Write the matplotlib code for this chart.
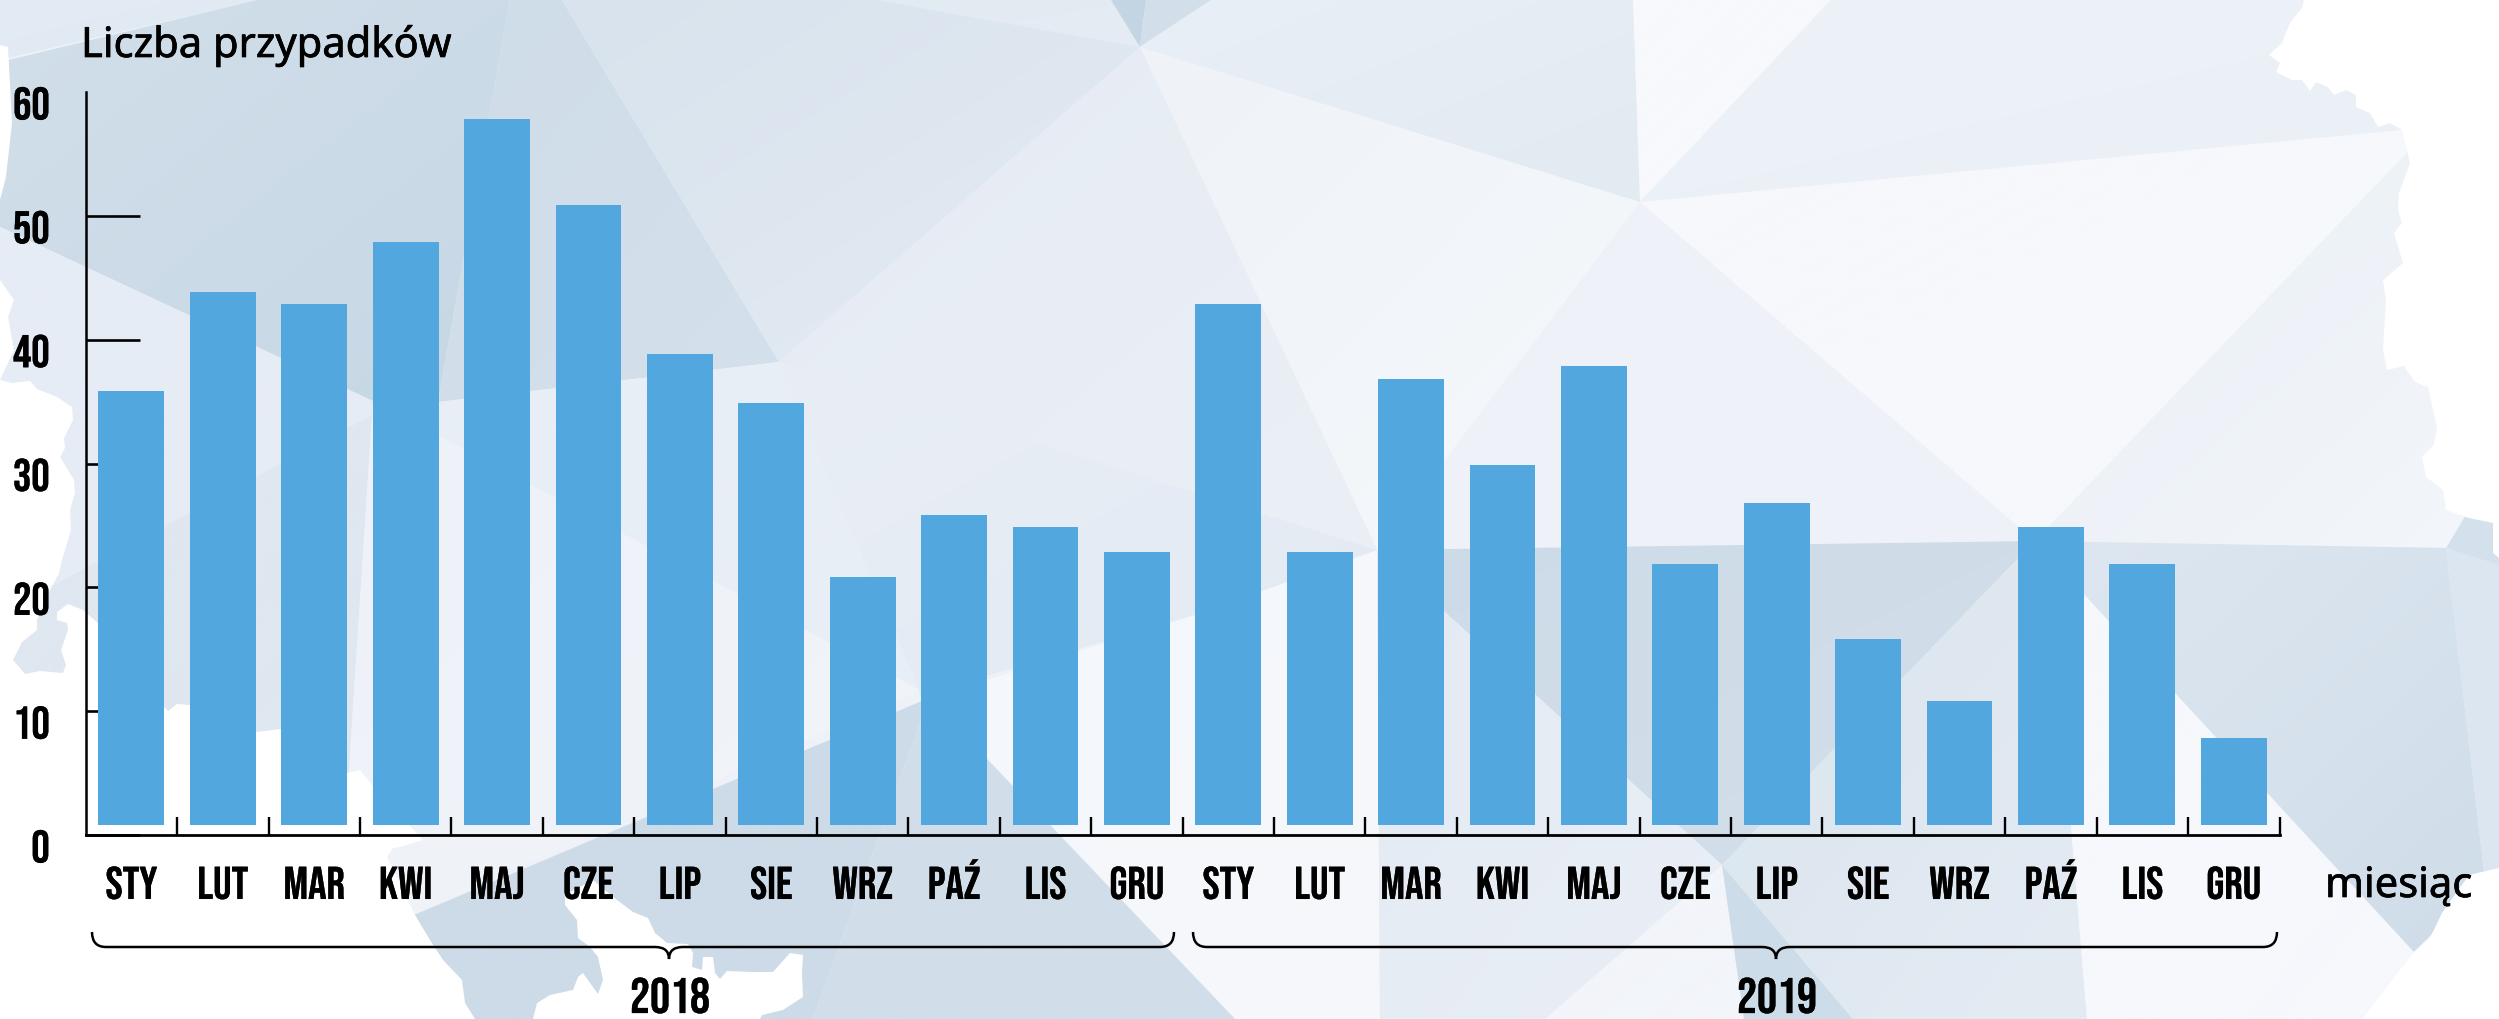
import numpy as np
import matplotlib
matplotlib.use("Agg")
import matplotlib.pyplot as plt
import matplotlib.patheffects as pe
from matplotlib.colors import to_rgb
from matplotlib.patches import Polygon, PathPatch
from matplotlib.path import Path
from matplotlib.transforms import ScaledTranslation

months = ["STY", "LUT", "MAR", "KWI", "MAJ", "CZE", "LIP", "SIE", "WRZ", "PAŹ", "LIS", "GRU"]
cases_2018 = [36, 44, 43, 48, 58, 51, 39, 35, 21, 26, 25, 23]
cases_2019 = [43, 23, 37, 30, 38, 22, 27, 16, 11, 25, 22, 8]
y_labels = [0, 10, 20, 30, 40, 50, 60]

W, H = 2499, 1019
BAR = "#51a7de"
NARROW = ["Bebas Neue", "Liberation Sans"]
SANS = ["Noto Sans", "Open Sans"]
BOLDER = [pe.withStroke(linewidth=0.5, foreground="black")]
SLIGHT = [pe.withStroke(linewidth=0.2, foreground="black")]

# background map, in pixels of the picture
outline = [
    (0, 0), (2304, 0), (2302, 8), (2290, 23), (2282, 43), (2269, 55), (2280, 63), (2276, 72), (2292, 80),
    (2302, 80), (2310, 91), (2316, 82), (2328, 87), (2334, 95), (2346, 90), (2356, 95), (2356, 107),
    (2370, 113), (2378, 127), (2390, 123), (2402, 130), (2410, 163), (2399, 193), (2398, 210), (2402, 223),
    (2394, 233), (2403, 263), (2383, 280), (2386, 300), (2383, 350), (2387, 370), (2404, 366), (2415, 382),
    (2428, 387), (2437, 427), (2434, 445), (2422, 457), (2426, 477), (2443, 490), (2446, 510), (2469, 518),
    (2493, 523), (2493, 553), (2499, 558), (2499, 868), (2469, 875), (2442, 913), (2430, 938), (2414, 952),
    (2362, 1019), (760, 1019), (762, 1015), (783, 1010), (803, 997), (802, 973), (803, 955), (790, 953),
    (773, 972), (753, 972), (727, 971), (720, 979), (715, 973), (713, 957), (703, 957), (702, 970), (692, 967),
    (693, 953), (688, 944), (667, 943), (655, 933), (648, 918), (633, 912), (613, 897), (593, 880), (565, 895),
    (565, 905), (577, 920), (578, 938), (590, 947), (598, 957), (603, 980), (598, 994), (590, 983), (583, 973),
    (578, 977), (573, 990), (550, 995), (537, 1003), (533, 1019), (475, 1019), (465, 1003), (462, 980),
    (443, 960), (430, 940), (415, 915), (403, 890), (387, 857), (393, 848), (400, 847), (423, 840), (372, 785),
    (360, 770), (347, 773), (281, 729), (257, 732), (190, 705), (177, 704), (168, 711), (164, 707), (98, 623),
    (83, 610), (68, 604), (57, 612), (57, 620), (67, 623), (68, 630), (61, 650), (66, 665), (63, 673), (40, 671),
    (25, 674), (13, 660), (22, 642), (37, 630), (37, 620), (50, 590), (59, 573), (62, 560), (71, 530), (70, 510),
    (75, 493), (74, 480), (60, 457), (65, 448), (64, 438), (73, 420), (72, 407), (57, 397), (37, 389), (30, 381),
    (12, 383), (0, 380), (14, 350), (8, 317), (14, 300), (0, 280), (0, 200), (6, 177), (12, 123), (8, 47), (0, 45),
]

V1, V2, V3 = (1140, 47), (1640, 202), (779, 362)
V4, V5, V6 = (2402, 130), (2408, 152), (2446, 548)
V7, V8, V10 = (1377, 550), (2035, 541), (1722, 865)

# corners, colour at the upper left, colour at the lower right
facets = [
    ([(0, 0), (257, 0), (8, 58), (0, 62)], "#e4ebf4", "#dfe8f1"),
    ([(257, 0), (510, 0), (438, 402), (375, 402), (0, 227), (0, 62)], "#d2dfea", "#c6d7e5"),
    ([(510, 0), (562, 0), V3, (438, 402)], "#cfdde9", "#d4e0eb"),
    ([(562, 0), (877, 0), V1, V3], "#d8e3ed", "#e4ebf3"),
    ([(877, 0), (1111, 0), V1], "#e2eaf2", "#e6ecf4"),
    ([(1111, 0), (1146, 0), V1], "#c4d5e3", "#c4d5e3"),
    ([(1146, 0), (1211, 0), V1], "#d2dfea", "#d2dfea"),
    ([(1211, 0), (1633, 0), V2, V1], "#e9eff6", "#e2eaf2"),
    ([(1633, 0), (1831, 0), V2], "#f7f9fc", "#f7f9fc"),
    ([(1831, 0), (2499, 0), V4, V2], "#edf1f8", "#ebf0f6"),
    ([V2, V4, V5, V8], "#f6f8fc", "#f6f8fc"),
    ([V5, V4, (2499, 130), (2499, 548), V6, V8], "#e9eff6", "#f3f6fa"),
    ([V1, V2, V7], "#eff3f8", "#f5f8fb"),
    ([V1, V3, V7], "#e6ecf4", "#ebeff6"),
    ([V3, V7, (1195, 615), (920, 695)], "#e9eef6", "#e3eaf3"),
    ([(375, 402), (438, 402), V3, (920, 690), (622, 533)], "#e8eef6", "#e8eef6"),
    ([(0, 227), (375, 402), (372, 415), (50, 587), (0, 614)], "#e6ecf5", "#e6ecf5"),
    ([(372, 415), (347, 800), (0, 800), (0, 614), (50, 587)], "#dfe7f0", "#dfe7f0"),
    ([(375, 402), (622, 533), (920, 690), (414, 915), (347, 800), (372, 415)], "#eef2f8", "#f1f4f9"),
    ([(929, 698), (1195, 615), V7, (1380, 1019), (1235, 1019)], "#f4f7fb", "#f6f8fc"),
    ([(414, 915), (929, 698), (813, 1019), (300, 1019)], "#cddbe8", "#cddbe8"),
    ([(929, 698), (1235, 1019), (813, 1019)], "#d1deea", "#d1deea"),
    ([V7, V8, V10], "#cddbe8", "#d3dfea"),
    ([V7, V10, (1545, 1019), (1380, 1019)], "#e3eaf3", "#eaeff6"),
    ([V10, (1545, 1019), (1744, 1019)], "#f2f5fa", "#f2f5fa"),
    ([V10, (1744, 1019), (1853, 1019)], "#cddce9", "#cddce9"),
    ([V8, V10, (1853, 1019), (2087, 1019), (2071, 827)], "#dae5ef", "#e4ebf3"),
    ([V8, (2414, 952), (2362, 1019), (2087, 1019), (2071, 827)], "#f6f8fc", "#f6f8fc"),
    ([V8, V6, (2485, 880), (2414, 952)], "#dee7f1", "#cfdde9"),
    ([V6, (2499, 565), (2499, 880), (2485, 880)], "#dce6f0", "#dce6f0"),
    ([V6, (2475, 500), (2499, 500), (2499, 565)], "#d4e1ec", "#d4e1ec"),
]


def facet(ax, pts, c0, c1):
    xs, ys = zip(*pts)
    box = (min(xs), max(xs), max(ys), min(ys))
    u, v = np.meshgrid(np.linspace(0, 1, 48), np.linspace(0, 1, 48))
    t = ((u + v) / 2)[..., None]
    img = np.array(to_rgb(c0)) * (1 - t) + np.array(to_rgb(c1)) * t
    im = ax.imshow(img, extent=box, aspect="auto", interpolation="bilinear", zorder=1)
    im.set_clip_path(Polygon(pts, closed=True, transform=ax.transData))


def brace(ax, x0, xm, x1, top=932, mid=947, tip=959, r=14):
    verts = [(x0, top), (x0, mid), (x0 + r, mid), (xm - r, mid), (xm, mid), (xm, tip),
             (xm, mid), (xm + r, mid), (x1 - r, mid), (x1, mid), (x1, top)]
    codes = [Path.MOVETO, Path.CURVE3, Path.CURVE3, Path.LINETO, Path.CURVE3, Path.CURVE3,
             Path.CURVE3, Path.CURVE3, Path.LINETO, Path.CURVE3, Path.CURVE3]
    ax.add_patch(PathPatch(Path(verts, codes), fc="none", ec="black", lw=1.8, zorder=4))


fig = plt.figure(figsize=(W / 100, H / 100), dpi=100, facecolor="white")

bg = fig.add_axes([0, 0, 1, 1], zorder=0)
bg.add_patch(Polygon(outline, closed=True, fc="#eef2f8", ec="none", zorder=0))
for pts, c0, c1 in facets:
    facet(bg, pts, c0, c1)
bg.set_xlim(0, W)
bg.set_ylim(H, 0)
bg.axis("off")

# white outside the map, drawn over the facets
rect = [(-5, -5), (W + 5, -5), (W + 5, H + 5), (-5, H + 5), (-5, -5)]
hole = outline[::-1] + [outline[-1]]
mask = Path(rect + hole, [Path.MOVETO] + [Path.LINETO] * 3 + [Path.CLOSEPOLY] + [Path.MOVETO] + [Path.LINETO] * (len(hole) - 2) + [Path.CLOSEPOLY])
bg.add_patch(PathPatch(mask, fc="white", ec="none", zorder=2))

brace(bg, 92, 669, 1174)
brace(bg, 1193, 1776, 2277)
bg.text(670, 1013, "2018", family=NARROW, fontsize=36, ha="center", va="baseline", path_effects=SLIGHT, zorder=5)
bg.text(1777, 1013, "2019", family=NARROW, fontsize=36, ha="center", va="baseline", path_effects=SLIGHT, zorder=5)
bg.text(81, 57, "Liczba przypadków", family=SANS, weight="medium", fontsize=30, va="baseline", path_effects=BOLDER, zorder=5)
bg.text(2325, 897, "miesiąc", family=SANS, weight="medium", fontsize=30, va="baseline", path_effects=BOLDER, zorder=5)

ax = fig.add_axes([85.7 / W, (H - 835) / H, (2279.5 - 85.7) / W, (835 - 92) / H], zorder=1)
ax.patch.set_alpha(0)
values = np.array(cases_2018 + cases_2019)
x = np.arange(len(values))
# bars stand on a small gap above the axis, their tops sit a hair under the tick scale
ax.bar(x, values - 0.15 - 0.8, bottom=0.8, width=0.72, color=BAR, zorder=3)
ax.set_xlim(-0.5, 23.5)
ax.set_ylim(0, 60)
ax.spines["top"].set_visible(False)
ax.spines["right"].set_visible(False)
ax.spines["left"].set_linewidth(1.8)
ax.spines["bottom"].set_linewidth(2.0)
ax.set_axisbelow(True)

ax.set_xticks(x)
ax.set_xticklabels(months + months, family=NARROW, fontsize=33, va="baseline", path_effects=SLIGHT)
ax.tick_params(axis="x", which="major", length=0, pad=46)
ax.set_xticks(x + 0.5, minor=True)
ax.tick_params(axis="x", which="minor", direction="in", length=13, width=1.7, color="black")

ax.set_yticks(y_labels)
ax.set_yticklabels(y_labels, family=NARROW, fontsize=33, path_effects=SLIGHT)
ax.tick_params(axis="y", direction="in", length=39, width=1.9, color="black", pad=26)
ax.yaxis.get_major_ticks()[-1].tick1line.set_visible(False)
offset = ScaledTranslation(0, -11 / 100, fig.dpi_scale_trans)
for lab in ax.get_yticklabels():
    lab.set_transform(lab.get_transform() + offset)

fig.savefig("out.png", dpi=100)
